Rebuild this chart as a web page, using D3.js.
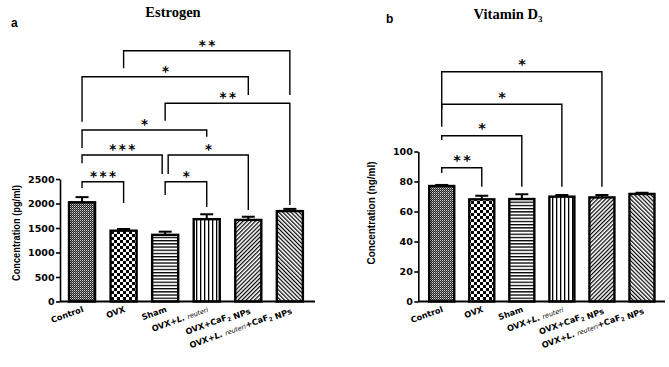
<!DOCTYPE html>
<meta charset="utf-8">
<style>
body { margin: 0; background: #fff; }
svg { display: block; }
text { fill: #000; }
.tick text { font-family: "DejaVu Sans", sans-serif; font-weight: bold; font-size: 9.5px; fill: #000; }
.tick line, .domain { stroke: #000; stroke-width: 1.6px; }
</style>
<svg width="669" height="367"></svg>
<script src="https://cdn.jsdelivr.net/npm/d3@7"></script>
<script>

// groups (x categories)
var groups = ["Control", "OVX", "Sham", "OVX+L. reuteri", "OVX+CaF2 NPs", "OVX+L. reuteri+CaF2 NPs"];
var patterns = ["pDense", "pChecker", "pHoriz", "pVert", "pDiagUp", "pDiagDown"];

// estrogen (pg/ml)
var estrogenMean = [2025, 1445, 1360, 1680, 1665, 1845];
var estrogenErr  = [105, 35, 65, 100, 65, 45];
var estrogenTicks = [0, 500, 1000, 1500, 2000, 2500];

// vitamin D3 (ng/ml)
var vitdMean = [77, 68.1, 68.3, 69.9, 69.4, 71.7];
var vitdErr  = [0.7, 2.4, 3.2, 1.1, 1.6, 0.8];
var vitdTicks = [0, 20, 40, 60, 80, 100];

// significance brackets: [group a, group b, level, left leg end, right leg end, stars]
var estrogenSig = [
  [0, 1, 2445, 2316, 2010, "***"],
  [2, 3, 2445, 2173, 1929, "*"],
  [0, 2, 2990, 2820, 2602, "***"],
  [2, 4, 2990, 2602, 1867, "*"],
  [0, 3, 3500, 3133, 3363, "*"],
  [2, 5, 4045, 3690, 1969, "**"],
  [0, 4, 4588, 3669, 4214, "*"],
  [1, 5, 5118, 4759, 4214, "**"]
];
var vitdSig = [
  [0, 1, 89.2, 85.7, 76.5, "**"],
  [0, 2, 110.5, 107.7, 76.5, "*"],
  [0, 3, 131.5, 128.1, 76.5, "*"],
  [0, 4, 153.2, 116.5, 76.5, "*"]
];

var svg = d3.select("svg");
var defs = svg.append("defs");

// fill patterns
function pat(id, w, h, rot) {
  var p = defs.append("pattern").attr("id", id)
      .attr("patternUnits", "userSpaceOnUse")
      .attr("width", w).attr("height", h);
  if (rot) p.attr("patternTransform", "rotate(" + rot + ")");
  p.append("rect").attr("width", w).attr("height", h).attr("fill", "#fff");
  return p;
}
var p1 = pat("pDense", 2, 2);
p1.select("rect").attr("fill", "#222");
p1.append("rect").attr("width", 1).attr("height", 1).attr("fill", "#ddd");
p1.append("rect").attr("x", 1).attr("y", 1).attr("width", 1).attr("height", 1).attr("fill", "#777");
var p2 = pat("pChecker", 6, 6);
p2.append("rect").attr("width", 3).attr("height", 3).attr("fill", "#000");
p2.append("rect").attr("x", 3).attr("y", 3).attr("width", 3).attr("height", 3).attr("fill", "#000");
pat("pHoriz", 3, 3.2).append("rect").attr("width", 3).attr("height", 1.3).attr("fill", "#000");
pat("pVert", 4, 3).append("rect").attr("width", 1.3).attr("height", 3).attr("fill", "#000");
pat("pDiagUp", 2.9, 3, 45).append("rect").attr("width", 1.2).attr("height", 3).attr("fill", "#000");
pat("pDiagDown", 2.9, 3, -45).append("rect").attr("width", 1.2).attr("height", 3).attr("fill", "#000");

function drawPanel(cfg) {
  var g = svg.append("g");
  var x = d3.scaleBand().domain(groups)
      .range([cfg.x0, cfg.x1]).paddingInner(0.325).paddingOuter(cfg.po);
  var y = d3.scaleLinear().domain([0, cfg.ymax]).range([301.5, cfg.ytop]);
  var bw = x.bandwidth();
  var cx = function(i) { return x(groups[i]) + bw / 2; };

  // bars
  g.selectAll(".bar").data(cfg.mean).enter().append("rect")
      .attr("x", function(d, i) { return x(groups[i]) + 1; })
      .attr("width", bw - 2)
      .attr("y", function(d) { return y(d); })
      .attr("height", function(d) { return y(0) - y(d); })
      .attr("fill", function(d, i) { return "url(#" + patterns[i] + ")"; })
      .attr("stroke", "#000").attr("stroke-width", 2.4);

  // error bars (upper only)
  var eb = g.selectAll(".err").data(cfg.mean).enter().append("g");
  eb.append("line")
      .attr("x1", function(d, i) { return cx(i); })
      .attr("x2", function(d, i) { return cx(i); })
      .attr("y1", function(d) { return y(d); })
      .attr("y2", function(d, i) { return y(d + cfg.err[i]); })
      .attr("stroke", "#000").attr("stroke-width", 2);
  eb.append("line")
      .attr("x1", function(d, i) { return cx(i) - 6.5; })
      .attr("x2", function(d, i) { return cx(i) + 6.5; })
      .attr("y1", function(d, i) { return y(d + cfg.err[i]); })
      .attr("y2", function(d, i) { return y(d + cfg.err[i]); })
      .attr("stroke", "#000").attr("stroke-width", 2);

  // axes
  g.append("g").attr("transform", "translate(" + cfg.ax + ",0)")
      .call(d3.axisLeft(y).tickValues(cfg.ticks).tickFormat(d3.format("d"))
        .tickSize(4).tickSizeOuter(0).tickPadding(1.5));
  g.append("line").attr("x1", cfg.ax).attr("x2", cfg.axEnd)
      .attr("y1", y(0)).attr("y2", y(0))
      .attr("stroke", "#000").attr("stroke-width", 1.8);

  // x labels
  groups.forEach(function(name, i) {
    var t = g.append("text")
        .attr("transform", "translate(" + (cx(i) + 2) + "," + (y(0) + 10) + ") rotate(-20)")
        .attr("text-anchor", "end")
        .style("font-family", "DejaVu Sans, sans-serif")
        .style("font-weight", "bold").style("font-size", "8.2px");
    var parts = name.split(/(L\. reuteri|CaF2)/);
    parts.forEach(function(s) {
      if (!s) return;
      if (s === "L. reuteri") {
        t.append("tspan").text("L. ").style("font-style", "italic");
        t.append("tspan").text("reuteri").style("font-style", "italic")
            .style("font-weight", "normal").style("font-size", "6.5px");
      } else if (s === "CaF2") {
        t.append("tspan").text("CaF");
        t.append("tspan").text("2").attr("dy", 2).style("font-size", "5.5px");
        t.append("tspan").text("").attr("dy", -2);
      } else {
        t.append("tspan").text(s);
      }
    });
  });

  // y label
  g.append("text")
      .attr("transform", "translate(" + cfg.lx + "," + cfg.ly + ") rotate(-90)")
      .attr("text-anchor", "middle").attr("dy", "0.35em")
      .attr("textLength", cfg.llen).attr("lengthAdjust", "spacingAndGlyphs")
      .style("font-family", "Liberation Sans, Arial, sans-serif")
      .style("font-weight", "bold").style("font-size", "10px")
      .text(cfg.ylabel);

  // significance brackets
  cfg.sig.forEach(function(s) {
    var xa = cx(s[0]) + (s[6] || 0), xb = cx(s[1]) + (s[7] || 0);
    g.append("path")
        .attr("d", "M" + xa + "," + y(s[3]) + "V" + y(s[2]) + "H" + xb + "V" + y(s[4]))
        .attr("fill", "none").attr("stroke", "#000").attr("stroke-width", 1.4);
    g.append("text")
        .attr("x", (xa + xb) / 2 + 1.5).attr("y", y(s[2]) - cfg.starGap)
        .attr("text-anchor", "middle")
        .style("font-family", "DejaVu Sans, sans-serif")
        .style("font-weight", "bold").style("font-size", cfg.starSize + "px")
        .style("letter-spacing", "2.5px")
        .text(s[5]);
  });

  // title + panel letter
  var title = g.append("text").attr("x", cfg.tx).attr("y", cfg.ty)
      .attr("text-anchor", "middle")
      .style("font-family", "Liberation Serif, Times New Roman, serif")
      .style("font-weight", "bold").style("font-size", "14.5px");
  title.append("tspan").text(cfg.title);
  if (cfg.titleSub) {
    title.append("tspan").text(cfg.titleSub).attr("dy", 3).style("font-size", "9px");
  }
  g.append("text").attr("x", cfg.px).attr("y", cfg.py)
      .style("font-family", "Liberation Sans, Arial, sans-serif")
      .style("font-weight", "bold").style("font-size", "12px")
      .text(cfg.letter);
}

// nudges for overlapping legs at Sham
estrogenSig[2][7] = -3;
estrogenSig[3][6] = 3;

drawPanel({
  x0: 59, x1: 312.9, po: 0.217, ax: 60, axEnd: 315,
  ymax: 2500, ytop: 179, ticks: estrogenTicks,
  mean: estrogenMean, err: estrogenErr, sig: estrogenSig,
  ylabel: "Concentration (pg/ml)", lx: 16, ly: 233, llen: 96,
  starGap: 1, starSize: 13.5,
  title: "Estrogen", tx: 173, ty: 17, letter: "a", px: 11, py: 27
});

drawPanel({
  x0: 418.2, x1: 665.5, po: 0.25, ax: 418.3, axEnd: 665,
  ymax: 100, ytop: 151.5, ticks: vitdTicks,
  mean: vitdMean, err: vitdErr, sig: vitdSig,
  ylabel: "Concentration (ng/ml)", lx: 371, ly: 213, llen: 103,
  starGap: 2.5, starSize: 14.5,
  title: "Vitamin D", titleSub: "3", tx: 508, ty: 18.5, letter: "b", px: 386, py: 23
});

</script>
